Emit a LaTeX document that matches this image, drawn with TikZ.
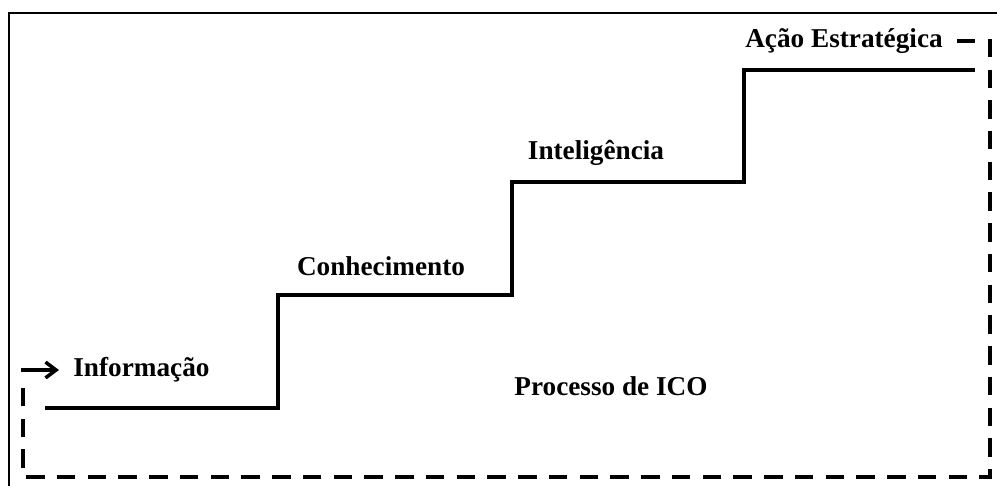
\documentclass[tikz,border=0pt]{standalone}
\usepackage{fontspec}
\setmainfont{Liberation Serif}
\usetikzlibrary{arrows.meta}

\begin{document}
\begin{tikzpicture}[x=0.02cm,y=-0.02cm,
  lbl/.style={font=\bfseries\fontsize{15.5}{18}\selectfont,inner sep=0pt},
  stair/.style={line width=2.2pt},
  loopback/.style={line width=2.2pt,dash pattern=on 10.5pt off 7pt}]
\useasboundingbox (0,0) rectangle (997,485);
\draw[line width=1.1pt] (9,500) -- (9,13) -- (1010,13);

% the steps
\coordinate (s0) at (45,408);
\coordinate (s1) at (278,408);
\coordinate (s2) at (278,295);
\coordinate (s3) at (512,295);
\coordinate (s4) at (512,182);
\coordinate (s5) at (744,182);
\coordinate (s6) at (744,70);
\coordinate (s7) at (975,70);
\draw[stair] (s0) -- (s1) -- (s2) -- (s3) -- (s4) -- (s5) -- (s6) -- (s7);

\node[lbl,anchor=west] (info) at (73,370) {Informação};
\node[lbl] (conh) at (381,266) {Conhecimento};
\node[lbl] (intel) at (596,153) {Inteligência};
\node[lbl] (acao) at (844,41) {Ação Estratégica};
\node[lbl] (ico) at (611,386) {Processo de ICO};

% dashed return path
\coordinate (c0) at (957,41);
\coordinate (c1) at (990,41);
\coordinate (c2) at (990,477);
\coordinate (c3) at (23,477);
\coordinate (c4) at (23,383);
\coordinate (c5) at (21,370);
\coordinate (c6) at (59,370);
\draw[loopback] (c0) -- (c1) -- (c2) -- (c3) -- (c4);
\draw[stair,-{Straight Barb[length=6pt,width=9pt,line width=2pt]}] (c5) -- (c6);
\end{tikzpicture}
\end{document}
